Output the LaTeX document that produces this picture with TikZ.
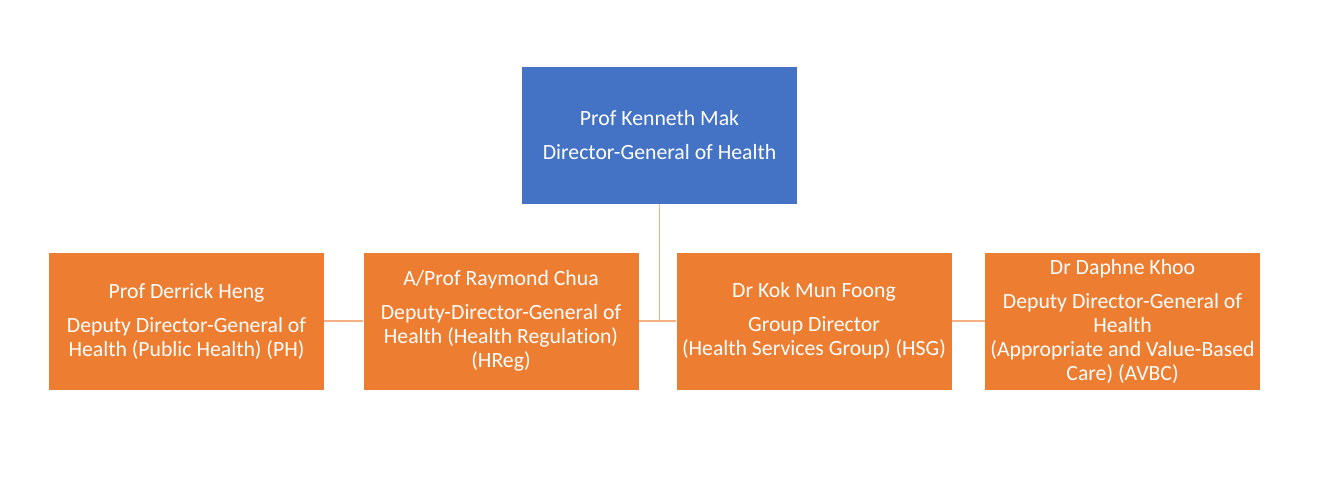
\documentclass[tikz,border=0pt]{standalone}
\usepackage{fontspec}
\setmainfont{Carlito}[Ligatures={NoCommon}]
\definecolor{topblue}{HTML}{4472C4}
\definecolor{boxorange}{HTML}{ED7D31}
\definecolor{linkorange}{HTML}{F4B183}
\begin{document}
\begin{tikzpicture}[x=0.75pt,y=-0.75pt,
  box/.style={minimum width=206.25pt,minimum height=102.75pt,inner sep=0pt,
    text=white,align=center,font=\fontsize{16.3}{18}\selectfont},
  bluebox/.style={box,fill=topblue},
  orangebox/.style={box,fill=boxorange},
  link/.style={draw=linkorange,line width=1pt}]
\useasboundingbox (0,0) rectangle (1320,486);
\node[bluebox] (top) at (659.5,135) {Prof Kenneth Mak\\[7.5pt]Director-General of Health};
\node[orangebox] (ph) at (186.5,321) {Prof Derrick Heng\\[7.5pt]Deputy Director-General of\\Health (Public Health) (PH)};
\node[orangebox] (hreg) at (501,321) {A/Prof Raymond Chua\\[7.5pt]Deputy-Director-General of\\Health (Health Regulation)\\(HReg)};
\node[orangebox] (hsg) at (814,321) {Dr Kok Mun Foong\\[7.5pt]Group Director\\(Health Services Group) (HSG)};
\node[orangebox] (avbc) at (1122.5,321) {Dr Daphne Khoo\\[7.5pt]Deputy Director-General of\\Health\\(Appropriate and Value-Based\\Care) (AVBC)};
\draw[link] (top.south) -- (top.south |- hreg.east);
\draw[link] (hreg.east) -- (hsg.west);
\draw[link] (ph.east) -- (hreg.west);
\draw[link] (hsg.east) -- (avbc.west);
\end{tikzpicture}
\end{document}
